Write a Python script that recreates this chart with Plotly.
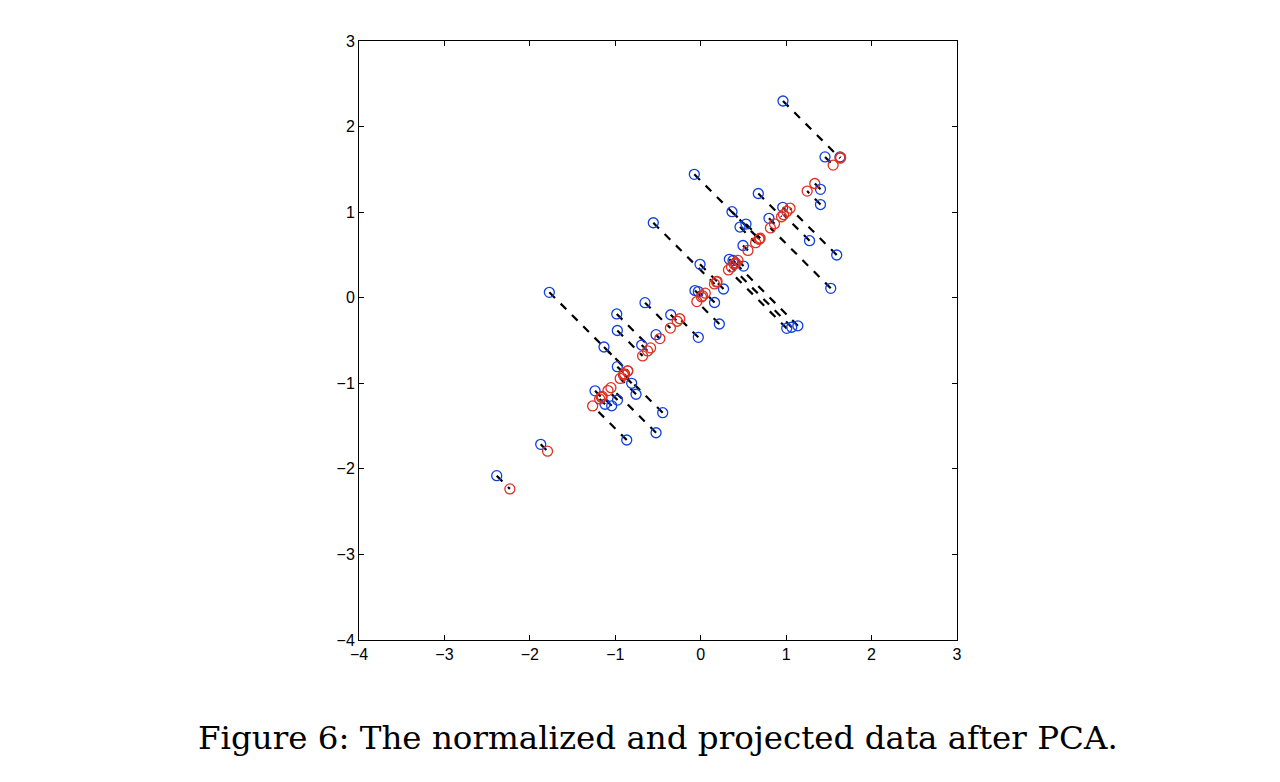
import plotly.graph_objects as go

# normalized data (blue circles)
x_norm = [0.963, 1.455, 1.631, -0.075, 0.674, 1.402, 1.402, 0.366, 0.960, 0.799,
          0.460, 0.530, -0.555, 1.274, 0.495, 1.592, 0.335, 0.378, 0.501, -0.008,
          -0.067, -0.028, 0.267, 0.162, 1.522, 0.218, -0.028, 1.007, 1.065, 1.137,
          -1.772, -0.652, -0.983, -0.351, -0.976, -0.523, -1.132, -0.691, -0.976, -0.808,
          -1.237, -0.757, -1.120, -1.042, -0.974, -0.445, -0.523, -0.866, -1.873, -2.388]
y_norm = [2.299, 1.645, 1.645, 1.442, 1.218, 1.267, 1.089, 1.005, 1.056, 0.928,
          0.826, 0.861, 0.876, 0.666, 0.610, 0.499, 0.449, 0.435, 0.370, 0.390,
          0.084, 0.072, 0.102, -0.056, 0.110, -0.307, -0.463, -0.358, -0.345, -0.328,
          0.063, -0.058, -0.190, -0.199, -0.383, -0.432, -0.576, -0.553, -0.806, -1.000,
          -1.088, -1.128, -1.245, -1.263, -1.196, -1.344, -1.578, -1.663, -1.713, -2.080]

# projected data (red circles), both coordinates equal on the diagonal
proj = [1.631, 1.550, 1.638, 0.684, 0.946, 1.335, 1.246, 0.686, 1.008, 0.864,
        0.643, 0.696, 0.161, 0.970, 0.553, 1.046, 0.392, 0.407, 0.436, 0.191,
        0.009, 0.022, 0.185, 0.053, 0.816, -0.045, -0.246, 0.325, 0.360, 0.405,
        -0.855, -0.355, -0.587, -0.275, -0.680, -0.478, -0.854, -0.622, -0.891, -0.904,
        -1.163, -0.943, -1.183, -1.153, -1.085, -0.895, -1.051, -1.265, -1.793, -2.234]

ticks = [-4, -3, -2, -1, 0, 1, 2, 3]
caption = "Figure 6: The normalized and projected data after PCA."

# dashed connectors blue -> red
lx, ly = [], []
for xb, yb, p in zip(x_norm, y_norm, proj):
    lx += [xb, p, None]
    ly += [yb, p, None]

fig = go.Figure()
fig.add_trace(go.Scatter(x=lx, y=ly, mode="lines",
                         line=dict(color="black", width=2.2, dash="8px,8px"),
                         hoverinfo="skip"))
fig.add_trace(go.Scatter(x=x_norm, y=y_norm, mode="markers",
                         marker=dict(symbol="circle-open", size=10, color="#1040e0",
                                     line=dict(width=1.3))))
fig.add_trace(go.Scatter(x=proj, y=proj, mode="markers",
                         marker=dict(symbol="circle-open", size=10, color="#e03020",
                                     line=dict(width=1.3))))

axis = dict(range=[-4, 3], tickvals=ticks, ticks="inside", ticklen=5,
            tickcolor="black", showline=True, linecolor="black", linewidth=1,
            mirror="ticks", showgrid=False, zeroline=False,
            tickfont=dict(family="Liberation Sans", size=16, color="black"))

# page has an 8px body offset, so margins are pulled in by that much
fig.update_layout(
    width=1280, height=782,
    margin=dict(l=351, r=331, t=33, b=150),
    paper_bgcolor="white", plot_bgcolor="white",
    showlegend=False,
    xaxis=axis, yaxis=axis,
    annotations=[dict(text=caption, xref="paper", yref="paper",
                      x=0.5, y=-0.163, xanchor="center", yanchor="middle",
                      showarrow=False,
                      font=dict(family="DejaVu Serif", size=32.5, color="black"))],
)

fig.write_html("out.html")
